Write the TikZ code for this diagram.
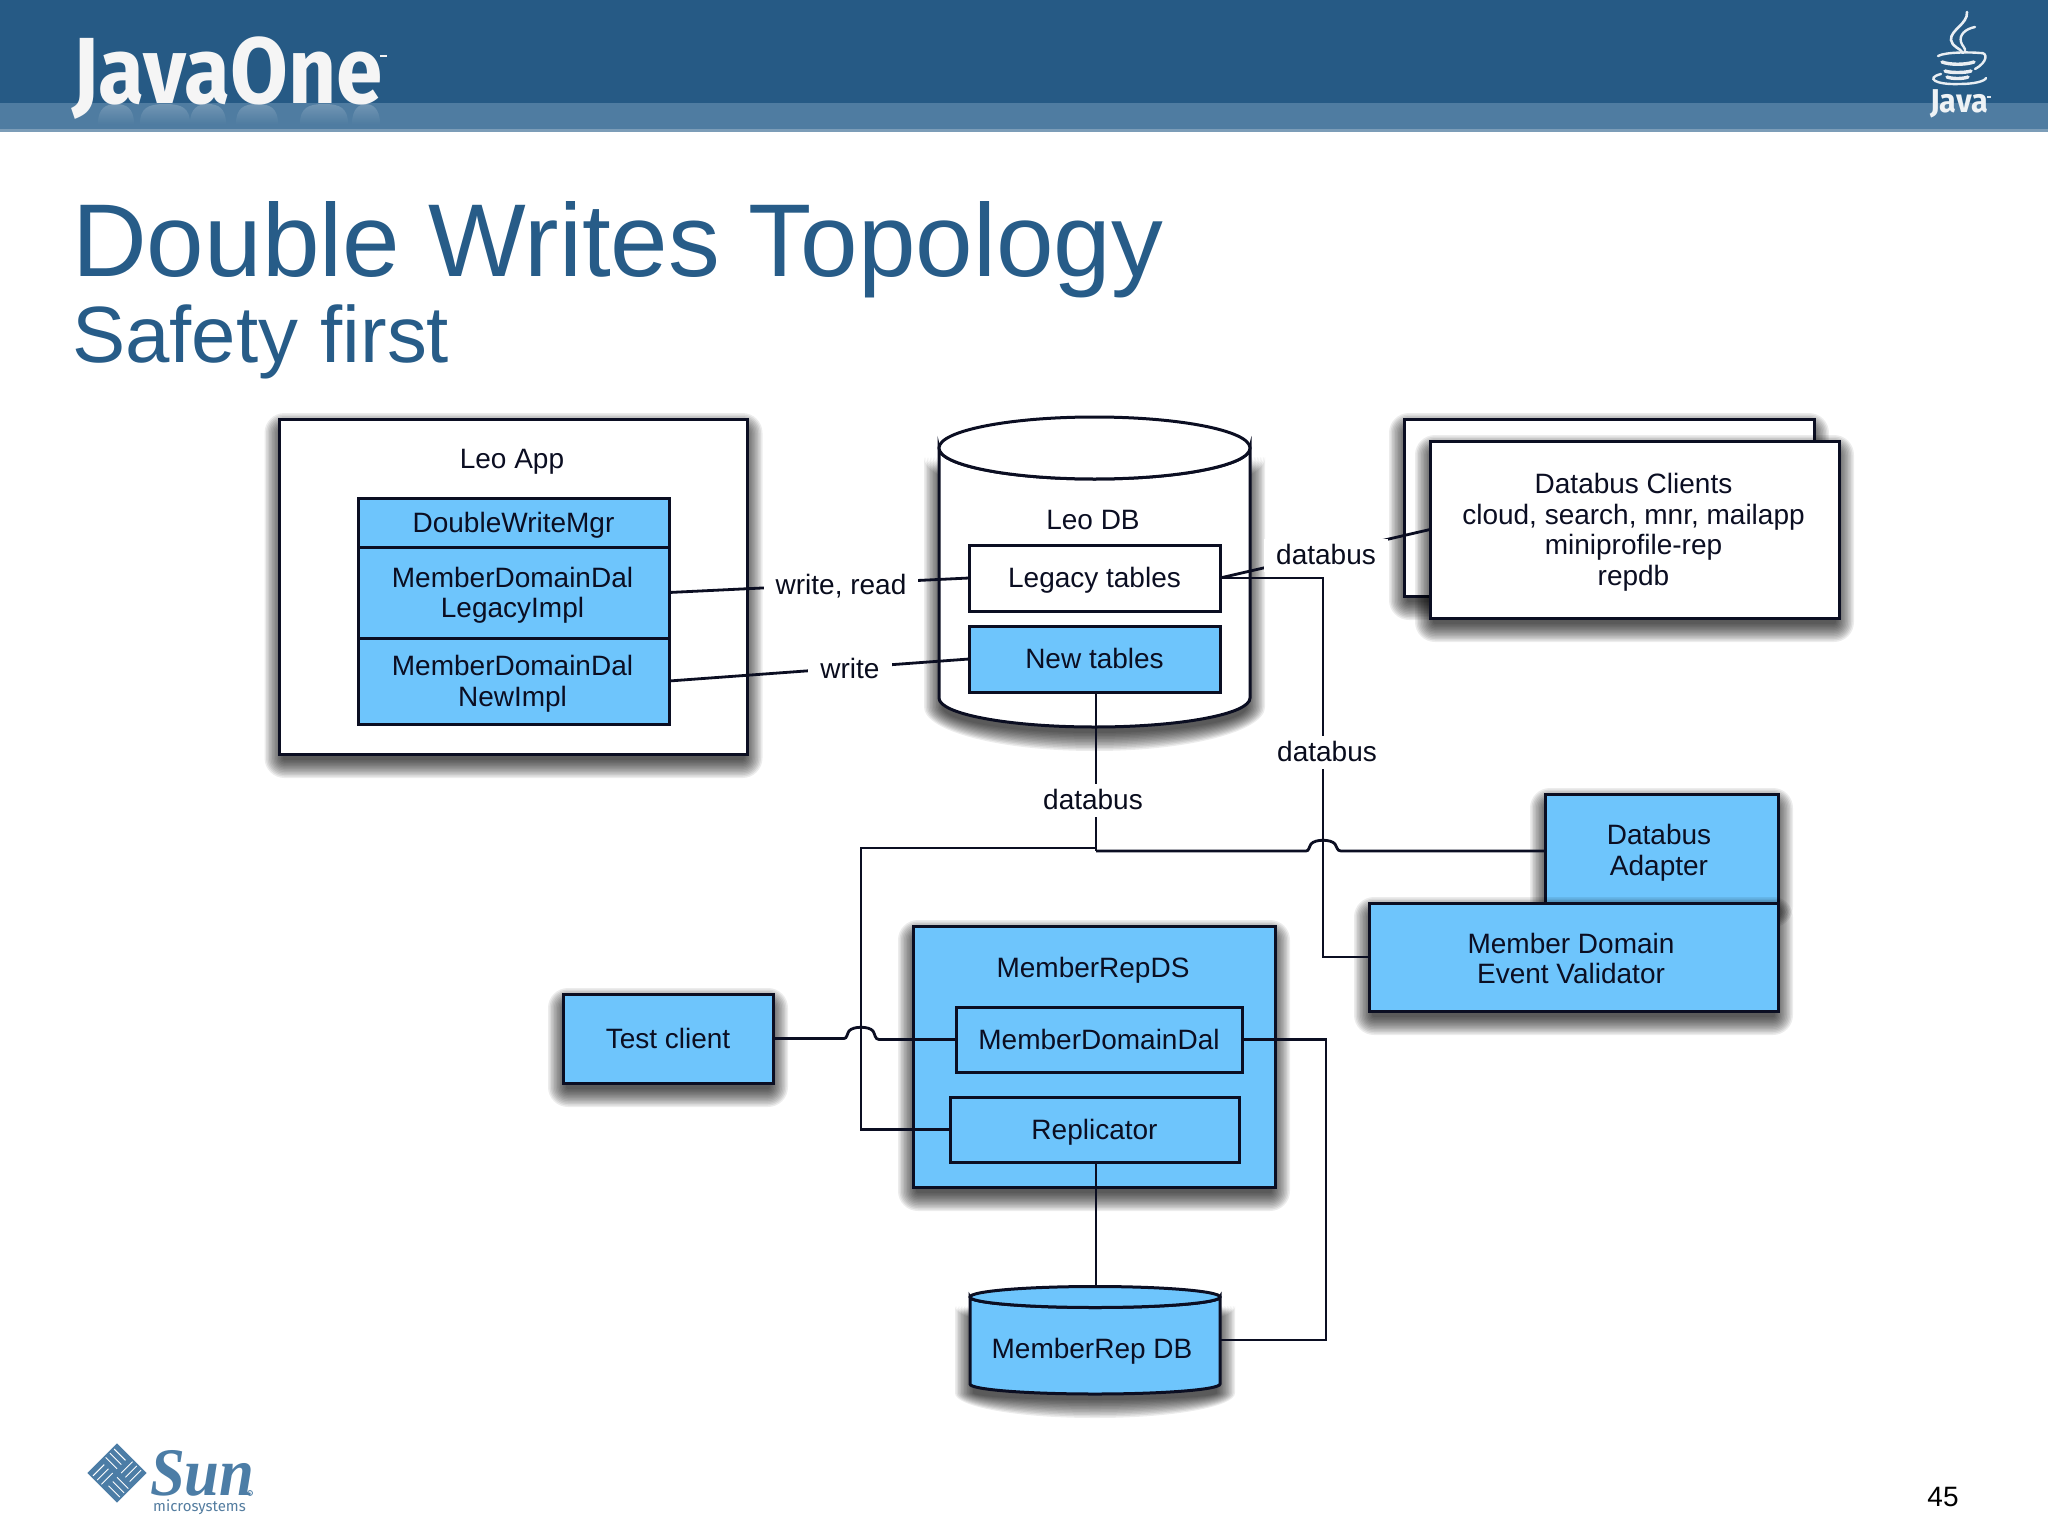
\documentclass[tikz,border=0pt]{standalone}
\usepackage{fontspec}
\setmainfont{Liberation Sans}
\newfontfamily\logofont{Fira Sans}
\newfontfamily\sunfont{Liberation Serif}
\usetikzlibrary{fadings,calc}
\definecolor{headblue}{HTML}{265A85}
\definecolor{bandblue}{HTML}{4F7CA1}
\definecolor{bandline}{HTML}{7C9DB8}
\definecolor{titleblue}{HTML}{275C88}
\definecolor{boxblue}{HTML}{6EC5FC}
\definecolor{ink}{HTML}{0B0E22}
\definecolor{sunblue}{HTML}{4C7DA6}
\newcommand{\boxshadow}[4]{%
  \foreach \g in {15,13.5,12,10.5,9,7.5,6,4.5,3,1.5,0,-1.5,-3}{
    \fill[black,opacity=.075,rounded corners={max(\g+5,1)*1pt}] ({#1-\g},{#2+9-\g}) rectangle ({#3+\g},{#4+9+\g});
  }}
\newcommand{\cylshadow}[5]{%
  \foreach \g in {15,13.5,12,10.5,9,7.5,6,4.5,3,1.5,0,-1.5,-3}{
    \fill[black,opacity=.075] ({#1-#4-\g},#2+9) arc[start angle=180,end angle=0,x radius={#4+\g},y radius={#5+\g}] -- ({#1+#4+\g},{#3+9}) arc[start angle=0,end angle=180,x radius={#4+\g},y radius={#5+\g}] -- cycle;
  }}
\tikzset{
  evenstrut/.style={execute at begin node={\rule{0pt}{26pt}},execute at end node={\rule[-7pt]{0pt}{7pt}}},
  basebox/.style={draw=ink,line width=3pt,outer sep=0pt,inner sep=0pt,align=center,text=ink,evenstrut,font=\fontsize{28}{30.5}\selectfont},
  whitebox/.style={basebox,fill=white},
  bluebox/.style={basebox,fill=boxblue},
  wire/.style={draw=ink,line width=2.8pt,line join=miter},
  wirelabel/.style={fill=white,inner xsep=12pt,inner ysep=0pt,evenstrut,font=\fontsize{28}{30.5}\selectfont,text=ink!85!black},
  plaintext/.style={inner sep=0pt,align=center,text=ink,evenstrut,font=\fontsize{28}{30.5}\selectfont},
  cupstroke/.style={draw=white!90!headblue,line cap=round}
}
\begin{document}
\begin{tikzpicture}[x=1pt,y=-1pt]
\useasboundingbox (0,0) rectangle (2048,1536);
\fill[white] (0,0) rectangle (2048,1536);
% header
\fill[headblue] (0,0) rectangle (2048,104);
\fill[bandblue] (0,103) rectangle (2048,130);
\fill[bandline] (0,129.5) rectangle (2048,132);
% JavaOne reflections
\foreach \xa/\xb in {98/134,140/190,190/226,236/278,300/348,352/380}{
  \fill[white,opacity=.2,path fading=south] (\xa,124) .. controls (\xa,108) and (\xa+8,104) .. ({(\xa+\xb)/2},104) .. controls (\xb-8,104) and (\xb,108) .. (\xb,124) -- cycle;
}
\node[inner sep=0pt,anchor=base west,text=white!92!gray,font=\logofont\bfseries\fontsize{94}{94}\selectfont,xscale=.89] (javaone) at (72,103.5) {JavaOne};
\fill[white!90!gray] (380,55) rectangle (387,57.5);
% Java coffee cup logo
\draw[cupstroke,line width=2.6pt] (1967,12) .. controls (1968,24) and (1950,30) .. (1951,40) .. controls (1952,47) and (1960,48) .. (1963,53);
\draw[cupstroke,line width=2.4pt] (1975,27) .. controls (1965,29) and (1959,35) .. (1961,42) .. controls (1962,46) and (1966,48) .. (1965,52);
\draw[cupstroke,line width=2.4pt] (1938,56) .. controls (1945,52) and (1970,52) .. (1980,53) .. controls (1988,52) and (1988,62) .. (1975,69);
\draw[cupstroke,line width=3.4pt] (1942,62) .. controls (1950,65) and (1965,65) .. (1974,62);
\draw[cupstroke,line width=3.4pt] (1945,71) .. controls (1950,73) and (1965,73) .. (1971,71);
\draw[cupstroke,line width=3.4pt] (1947,77) .. controls (1952,79) and (1963,79) .. (1968,77);
\draw[cupstroke,line width=2.4pt] (1941,74) .. controls (1925,78) and (1935,85) .. (1960,84) .. controls (1975,84) and (1985,81) .. (1986,78);
\node[inner sep=0pt,anchor=base west,text=white!92!headblue,font=\logofont\bfseries\fontsize{33}{33}\selectfont,xscale=.93] (javalogo) at (1930,113) {Java};
\fill[white!85!headblue] (1987,96.5) rectangle (1990.5,98);
% titles
\node[inner sep=0pt,anchor=base west,text=titleblue,font=\fontsize{103.5}{104}\selectfont] (title) at (72,276) {Double Writes Topology};
\node[inner sep=0pt,anchor=base west,text=titleblue,font=\fontsize{79.8}{80}\selectfont] (subtitle) at (72,362) {Safety first};
% Leo App
\boxshadow{279.5}{419}{747.5}{754}
\node[whitebox,minimum width=468pt,minimum height=335pt] (leoapp) at (513.5,586.5) {};
\node[plaintext] (leoapplabel) at (512,459) {Leo App};
\node[bluebox,minimum width=311pt,minimum height=49pt] (mgr) at (513.5,522.5) {DoubleWriteMgr};
\node[bluebox,minimum width=311pt,minimum height=91pt] (legacyimpl) at (513.5,592.5) {};
\node[plaintext] (legacyimpltext) at (512.5,596) {MemberDomainDal\\LegacyImpl};
\node[bluebox,minimum width=311pt,minimum height=86pt] (newimpl) at (513.5,681) {};
\node[plaintext] (newimpltext) at (512.5,684.5) {MemberDomainDal\\NewImpl};
% Leo DB cylinder
\cylshadow{1094.5}{448}{698}{155.5}{29}
\path[draw=ink,line width=3pt,fill=white] (939,448) -- (939,698) arc[start angle=180,end angle=0,x radius=155.5,y radius=29] -- (1250,448) arc[start angle=0,end angle=180,x radius=155.5,y radius=31] -- cycle;
\path[draw=ink,line width=3pt,fill=white] (1094.5,448) ellipse[x radius=155.5,y radius=31];
\node[plaintext] (leodblabel) at (1093,520) {Leo DB};
\node[whitebox,minimum width=251pt,minimum height=66pt] (legacy) at (1094.5,578) {Legacy tables};
\node[bluebox,minimum width=251pt,minimum height=66pt] (newt) at (1094.5,659) {New tables};
% Databus clients
\boxshadow{1404}{419}{1814}{596}
\node[whitebox,minimum width=410pt,minimum height=177pt] (clientsback) at (1609,507.5) {};
\boxshadow{1430}{441}{1839}{618}
\node[whitebox,minimum width=409pt,minimum height=177pt] (clients) at (1634.5,529.5) {};
\node[plaintext] (clientstext) at (1633.5,533) {Databus Clients\\cloud, search, mnr, mailapp\\miniprofile-rep\\repdb};
% Adapter and validator
\boxshadow{1545}{794}{1778}{903}
\node[bluebox,minimum width=233pt,minimum height=109pt] (adapter) at (1661.5,848.5) {};
\node[plaintext] (adaptertext) at (1659,853.5) {Databus\\Adapter};
\boxshadow{1369}{903}{1778}{1011}
\node[bluebox,minimum width=409pt,minimum height=108pt] (validator) at (1573.5,957) {};
\node[plaintext] (validatortext) at (1571,962) {Member Domain\\Event Validator};
% MemberRepDS
\boxshadow{913}{926}{1275}{1187}
\node[bluebox,minimum width=362pt,minimum height=261pt] (repds) at (1094,1056.5) {};
\node[plaintext] (repdslabel) at (1093,968) {MemberRepDS};
\node[bluebox,minimum width=286pt,minimum height=65pt] (mdd) at (1099,1039.5) {MemberDomainDal};
\node[bluebox,minimum width=289pt,minimum height=65pt] (replicator) at (1094.5,1129.5) {Replicator};
\boxshadow{563}{994}{773}{1083}
\node[bluebox,minimum width=210pt,minimum height=89pt] (testclient) at (668,1038.5) {Test client};
% MemberRep DB cylinder
\cylshadow{1095}{1297}{1384}{125}{10}
\path[draw=ink,line width=3pt,fill=boxblue] (970,1297) -- (970,1384) arc[start angle=180,end angle=0,x radius=125,y radius=10] -- (1220,1297) arc[start angle=0,end angle=180,x radius=125,y radius=10.5] -- cycle;
\path[draw=ink,line width=3pt,fill=boxblue] (1095,1297) ellipse[x radius=125,y radius=10.5];
\node[plaintext] (repdblabel) at (1092,1349) {MemberRep DB};
\coordinate (dbtop) at (1096,1287);
\coordinate (dbeast) at (1220,1340);
% connector corners
\coordinate (busl) at (1096,848);
\coordinate (busr) at (1096,851);
\coordinate (legacyleft) at (861,848);
\coordinate (legacydown) at (1323,578);
\coordinate (dalright) at (1326,1039.5);
% connectors
\draw[wire] (legacyimpl.east) -- (legacy.west);
\draw[wire] (newimpl.east) -- (newt.west);
\draw[wire] (legacy.east) -- (clients.west);
\draw[wire] (newt.south -| busl) -- (busr);
\draw[wire] (busl) -- (legacyleft) -- (legacyleft |- replicator.west) -- (replicator.west);
\draw[wire] (busr) -- (1306,851) .. controls (1309,851) and (1309,847) .. (1311,844) .. controls (1315,839) and (1331,839) .. (1335,844) .. controls (1337,847) and (1337,851) .. (1341,851) -- (adapter.west |- busr);
\draw[wire] (legacy.east) -- (legacydown) -- (legacydown |- validator.west) -- (validator.west);
\draw[wire] (testclient.east) -- (844,1038.5) .. controls (847,1038.5) and (847,1034) .. (849,1031) .. controls (853,1026) and (869,1026) .. (873,1031) .. controls (875,1034) and (875,1039.5) .. (879,1039.5) -- (mdd.west);
\draw[wire] (mdd.east) -- (dalright) -- (dalright |- dbeast) -- (dbeast);
\draw[wire] (replicator.south -| dbtop) -- (dbtop);
% connector labels
\node[wirelabel] (lwriteread) at (841,585) {write, read};
\node[wirelabel] (lwrite) at (850,669) {write};
\node[wirelabel] (ldb1) at (1326,555) {databus};
\node[wirelabel] (ldb2) at (1327,752) {databus};
\node[wirelabel] (ldb3) at (1093,800) {databus};
% Sun logo
\begin{scope}[shift={(117,1473)},rotate=45]
\fill[sunblue] (-21,-21) rectangle (21,21);
\foreach \k in {-15,-9,-3}{
  \draw[white,line width=1pt] (-19,\k) -- (-3,\k);
  \draw[white,line width=1pt] (3,-\k) -- (19,-\k);
  \draw[white,line width=1pt] (\k,3) -- (\k,19);
  \draw[white,line width=1pt] (-\k,-19) -- (-\k,-3);
}
\end{scope}
\node[inner sep=0pt,anchor=base west,text=sunblue,font=\sunfont\bfseries\itshape\fontsize{68}{68}\selectfont,xscale=.92] (sun) at (150,1495) {Sun};
\draw[sunblue,line width=.8pt] (250,1493) circle[radius=2.5];
\node[inner sep=0pt,anchor=base west,text=sunblue!85!gray,font=\logofont\fontsize{15}{16}\selectfont] (micro) at (153,1511) {microsystems};
% page number
\node[inner sep=0pt,text=black,font=\fontsize{28}{28}\selectfont] (pageno) at (1943,1497) {45};
\end{tikzpicture}
\end{document}
